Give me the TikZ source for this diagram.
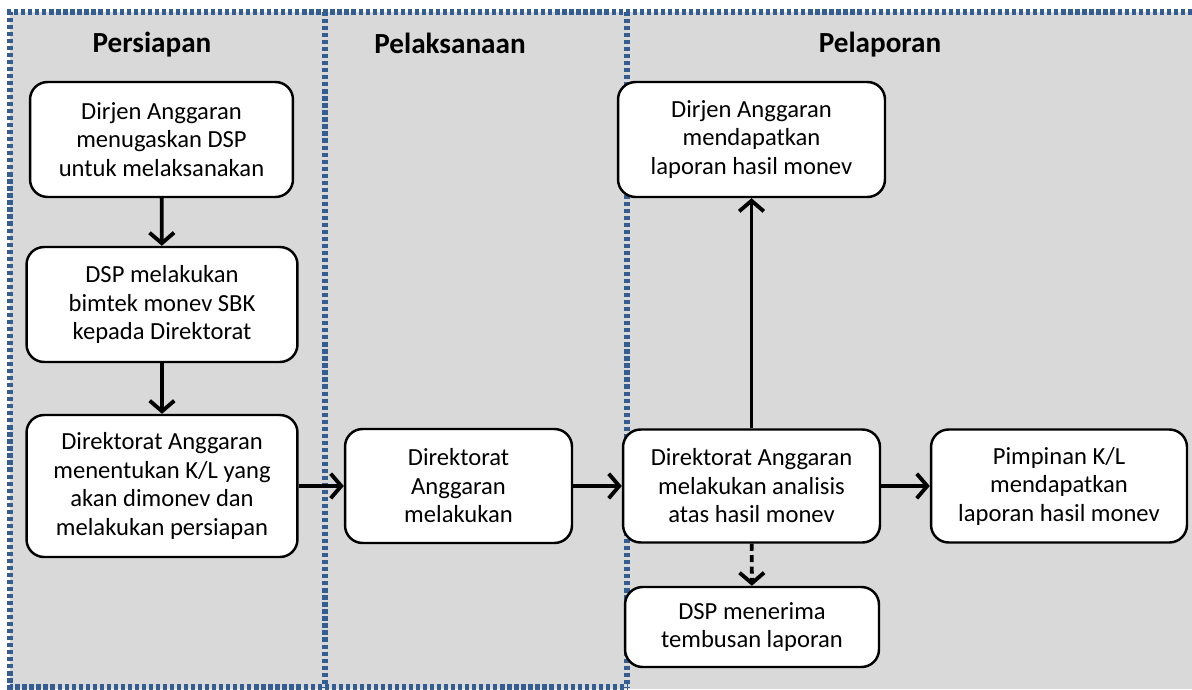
\documentclass[tikz,border=0pt]{standalone}
\usepackage{fontspec}
\setmainfont{Carlito}
\usetikzlibrary{arrows.meta}
\definecolor{lanebg}{RGB}{217,217,217}
\definecolor{laneblue}{RGB}{52,94,145}
\begin{document}
\begin{tikzpicture}[x=0.02cm,y=-0.02cm,
  box/.style={draw, line width=1.4pt, fill=white, rounded corners=10pt, align=center,
    font=\fontsize{14}{16.2}\selectfont, inner sep=0pt},
  lane/.style={draw=laneblue, line width=3pt, dash pattern=on 2.4pt off 1.6pt},
  lanetitle/.style={font=\fontsize{16.6}{19}\selectfont\bfseries},
  flow/.style={line width=2.2pt, -{Straight Barb[length=6pt,width=14pt,line width=2.2pt]}}]
\useasboundingbox (0,0) rectangle (1192,689);
% lanes
\fill[lanebg] (10,12) rectangle (1192,689);
\draw[lane] (1192,12) -- (10,12) -- (10,687) -- (627,687);
\draw[lane] (325,12) -- (325,687);
\draw[lane] (627,12) -- (627,687);
\node[lanetitle] (tprep) at (152,45) {Persiapan};
\node[lanetitle] (texec) at (450,43) {Pelaksanaan};
\node[lanetitle] (trep) at (880,45) {Pelaporan};
% steps
\node[box, minimum width=5.26cm, minimum height=2.3cm] (assign) at (161.5,139.5) {Dirjen Anggaran\\menugaskan DSP\\untuk melaksanakan};
\node[box, minimum width=5.42cm, minimum height=2.3cm] (bimtek) at (162,304.5) {DSP melakukan\\bimtek monev SBK\\kepada Direktorat};
\node[box, minimum width=5.42cm, minimum height=2.84cm] (select) at (162,486) {Direktorat Anggaran\\menentukan K/L yang\\akan dimonev dan\\melakukan persiapan};
\node[box, minimum width=4.54cm, minimum height=2.28cm] (exec) at (458.5,486) {Direktorat\\Anggaran\\melakukan};
\node[box, minimum width=5.14cm, minimum height=2.26cm] (analyse) at (751.5,486) {Direktorat Anggaran\\melakukan analisis\\atas hasil monev};
\node[box, minimum width=5.08cm, minimum height=1.6cm] (copy) at (752,627) {DSP menerima\\tembusan laporan};
\node[box, minimum width=5.34cm, minimum height=2.3cm] (dirjen) at (751.5,139.5) {Dirjen Anggaran\\mendapatkan\\laporan hasil monev};
\node[box, minimum width=5.12cm, minimum height=2.26cm] (kl) at (1059,486) {Pimpinan K/L\\mendapatkan\\laporan hasil monev};
% arrows
\draw[flow] (assign) -- (bimtek);
\draw[flow] (bimtek) -- (select);
\draw[flow] (select) -- (exec);
\draw[flow] (exec) -- (analyse);
\draw[flow] (analyse) -- (dirjen);
\draw[flow] (analyse) -- (kl);
\draw[flow, dash pattern=on 4pt off 2.5pt] (analyse) -- (copy);
\end{tikzpicture}
\end{document}
